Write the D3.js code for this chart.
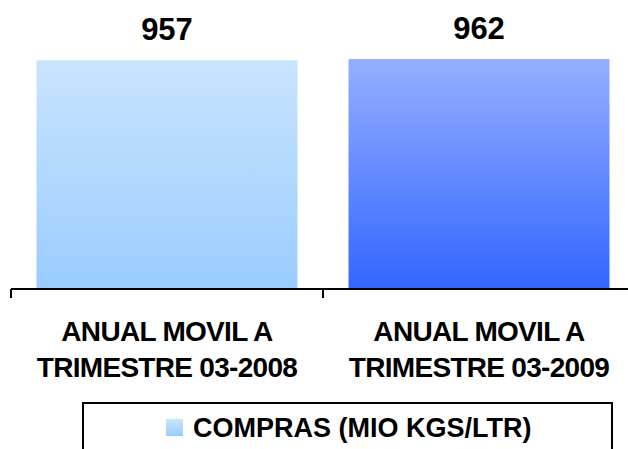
<!DOCTYPE html>
<html lang="es">
  <head>
    <meta charset="UTF-8" />
    <title>Compras</title>
    <script src="https://cdn.jsdelivr.net/npm/d3@7/dist/d3.min.js"></script>
    <style>
      body { margin: 0; background: #fff; }
      text { font-family: "Liberation Sans", Arial, sans-serif; font-weight: bold; fill: #000; }
    </style>
  </head>
  <body>
    <div id="app"></div>
    <script>
      // datos
      const categories = ["ANUAL MOVIL A|TRIMESTRE 03-2008", "ANUAL MOVIL A|TRIMESTRE 03-2009"];
      const values = [957, 962];
      const seriesName = "COMPRAS (MIO KGS/LTR)";
      const barColors = [["#c9e4fd", "#99ccff"], ["#94aeff", "#3366ff"]];

      const width = 628, height = 449;
      const svg = d3.select("#app").append("svg")
        .attr("width", width).attr("height", height);

      const defs = svg.append("defs");
      barColors.forEach((c, i) => {
        const g = defs.append("linearGradient").attr("id", "grad" + i)
          .attr("x1", 0).attr("y1", 0).attr("x2", 0).attr("y2", 1);
        g.append("stop").attr("offset", "0%").attr("stop-color", c[0]);
        g.append("stop").attr("offset", "100%").attr("stop-color", c[1]);
      });

      const x = d3.scaleBand().domain(categories)
        .range([11, 635]).paddingInner(0.1635).paddingOuter(0.0817);
      const y = d3.scaleLinear().domain([0, 1000]).range([289, 50]);

      // barras
      svg.selectAll("rect.bar").data(values).enter().append("rect")
        .attr("class", "bar")
        .attr("x", (d, i) => x(categories[i]))
        .attr("y", d => y(d))
        .attr("width", x.bandwidth())
        .attr("height", d => y(0) - y(d))
        .attr("fill", (d, i) => `url(#grad${i})`);

      // etiquetas de valor
      svg.selectAll("text.val").data(values).enter().append("text")
        .attr("class", "val")
        .attr("x", (d, i) => x(categories[i]) + x.bandwidth() / 2)
        .attr("y", d => y(d) - 20)
        .attr("text-anchor", "middle")
        .style("font-size", "31px")
        .text(d => d);

      // eje
      const x0 = x.range()[0];
      svg.append("line").attr("x1", x0).attr("x2", x.range()[1])
        .attr("y1", y(0)).attr("y2", y(0))
        .attr("stroke", "#000").attr("stroke-width", 2);
      d3.range(categories.length + 1).forEach(i => {
        const tx = x0 + i * x.step();
        svg.append("line").attr("x1", tx).attr("x2", tx)
          .attr("y1", y(0)).attr("y2", y(0) + 9)
          .attr("stroke", "#000").attr("stroke-width", 2);
      });

      // etiquetas de categoria
      categories.forEach(c => {
        const t = svg.append("text")
          .attr("text-anchor", "middle")
          .style("font-size", "28px")
          .style("letter-spacing", "-0.7px");
        c.split("|").forEach((line, j) => {
          t.append("tspan").attr("x", x(c) + x.bandwidth() / 2)
            .attr("y", 341 + j * 36).text(line);
        });
      });

      // leyenda
      const leg = svg.append("g");
      leg.append("rect").attr("x", 83).attr("y", 403).attr("width", 529).attr("height", 60)
        .attr("fill", "#fff").attr("stroke", "#000").attr("stroke-width", 2);
      leg.append("rect").attr("x", 166).attr("y", 419).attr("width", 17).attr("height", 17)
        .attr("fill", "url(#grad0)");
      leg.append("text").attr("x", 193).attr("y", 437)
        .style("font-size", "27px")
        .text(seriesName);
    </script>
  </body>
</html>
